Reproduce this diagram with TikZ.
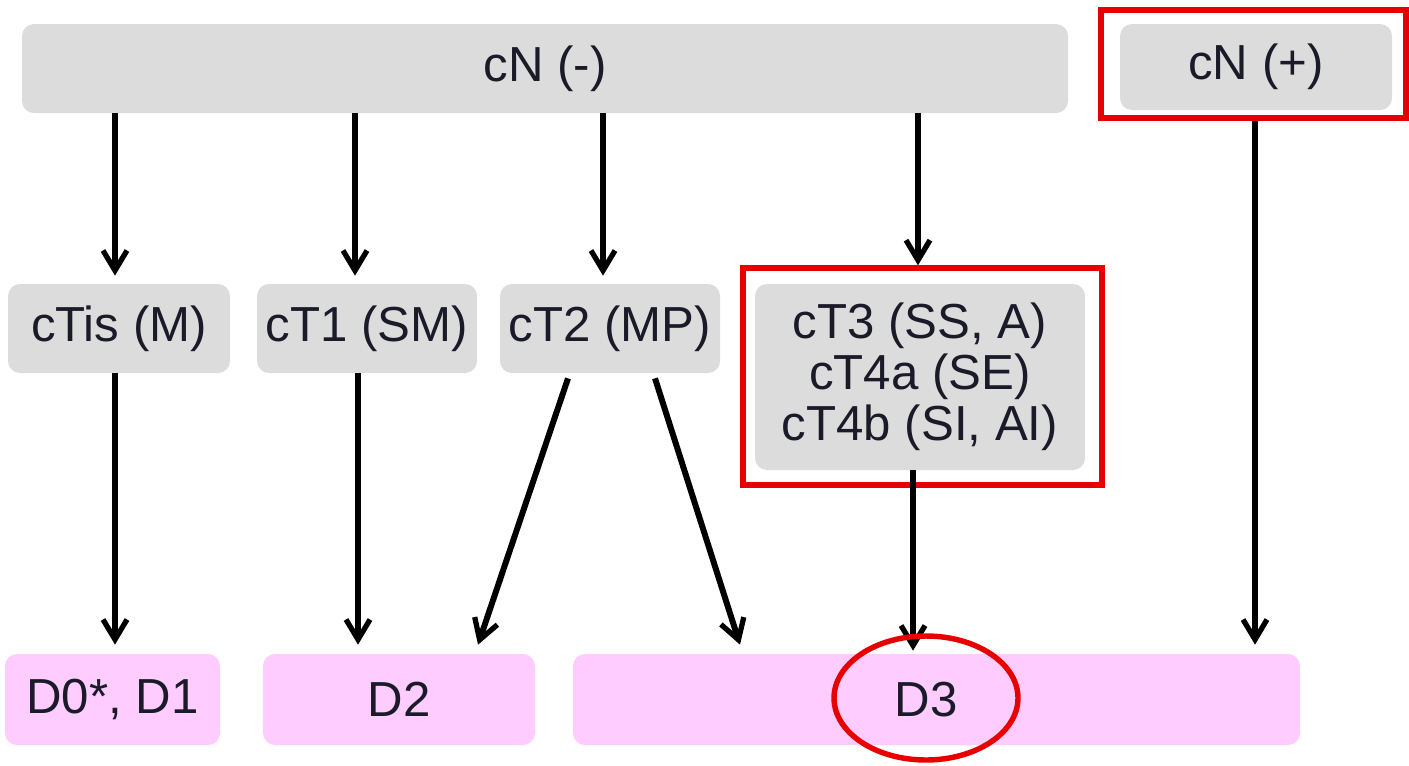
\documentclass[tikz,border=0pt]{standalone}
\usepackage{fontspec}
\setmainfont{Liberation Sans}
\usetikzlibrary{arrows.meta,calc,shapes.geometric}
\definecolor{boxgray}{HTML}{DCDCDC}
\definecolor{boxpink}{HTML}{FFCCFF}
\definecolor{txt}{HTML}{1A1A28}
\definecolor{mark}{HTML}{E80000}
\begin{document}
\begin{tikzpicture}[x=0.02cm,y=-0.02cm,
  every node/.style={font=\fontsize{28}{29}\selectfont, text=txt, inner sep=0pt, align=center},
  graybox/.style={fill=boxgray, rounded corners=0.24cm},
  pinkbox/.style={fill=boxpink, rounded corners=0.24cm},
  redframe/.style={draw=mark, line width=3.1pt},
  conn/.style={line width=3.4pt, -{Straight Barb[length=0.4cm,width=0.48cm,line width=3pt]}},
]
\useasboundingbox (0,0) rectangle (1409,765);

% top row
\node[graybox, minimum width=1046*0.02cm, minimum height=89*0.02cm] (cnneg) at (545,68.5) {cN (-)};
\node[graybox, minimum width=272*0.02cm, minimum height=86*0.02cm] (cnpos) at (1256,67) {cN (+)};
\node[redframe, minimum width=305*0.02cm, minimum height=108*0.02cm] (framepos) at (1253.5,64) {};

% middle row
\node[graybox, minimum width=222*0.02cm, minimum height=89*0.02cm] (tis) at (119,328.5) {cTis (M)};
\node[graybox, minimum width=220*0.02cm, minimum height=89*0.02cm] (t1) at (367,328.5) {cT1 (SM)};
\node[graybox, minimum width=220*0.02cm, minimum height=89*0.02cm] (t2) at (610,328.5) {cT2 (MP)};
\node[graybox, minimum width=330*0.02cm, minimum height=186*0.02cm] (t34) at (920,377) {cT3 (SS, A)\\cT4a (SE)\\cT4b (SI, AI)};
\node[redframe, minimum width=359*0.02cm, minimum height=217*0.02cm] (framet34) at (922.5,376.5) {};

% bottom row
\node[pinkbox, minimum width=215*0.02cm, minimum height=91*0.02cm] (d01) at (112.5,699.5) {D0*, D1};
\node[pinkbox, minimum width=272*0.02cm, minimum height=91*0.02cm] (d2) at (399,699.5) {D2};
\node[pinkbox, minimum width=727*0.02cm, minimum height=91*0.02cm] (d3) at (936.5,699.5) {};
\node (d3label) at (926,699.5) {D3};

% connectors
\draw[conn] (cnneg.south -| 115,0) -- ($(tis.north -| 115,0)+(0,-8)$);
\draw[conn] (cnneg.south -| 355,0) -- ($(t1.north -| 355,0)+(0,-8)$);
\draw[conn] (cnneg.south -| 603,0) -- ($(t2.north -| 603,0)+(0,-8)$);
\draw[conn] (cnneg.south -| 918,0) -- (framet34.north -| 918,0);
\draw[conn] (framepos.south -| 1255,0) -- ($(d3.north -| 1255,0)+(0,-9)$);
\draw[conn] (tis.south -| 115,0) -- ($(d01.north -| 115,0)+(0,-9)$);
\draw[conn] (t1.south -| 358,0) -- ($(d2.north -| 358,0)+(0,-9)$);
\draw[conn] ($(t2.south)+(-42,5)$) -- ($(d2.north)+(79,-9)$);
\draw[conn] ($(t2.south)+(45,5)$) -- ($(d3.north)+(-196.5,-9)$);
\draw[conn] (t34.south -| 913,0) -- ($(d3.north -| 913,0)+(0,-3)$);

% highlight ring
\node[draw=mark, line width=3.1pt, ellipse, minimum width=184*0.02cm, minimum height=124*0.02cm] (ring) at (926,698) {};
\end{tikzpicture}
\end{document}
